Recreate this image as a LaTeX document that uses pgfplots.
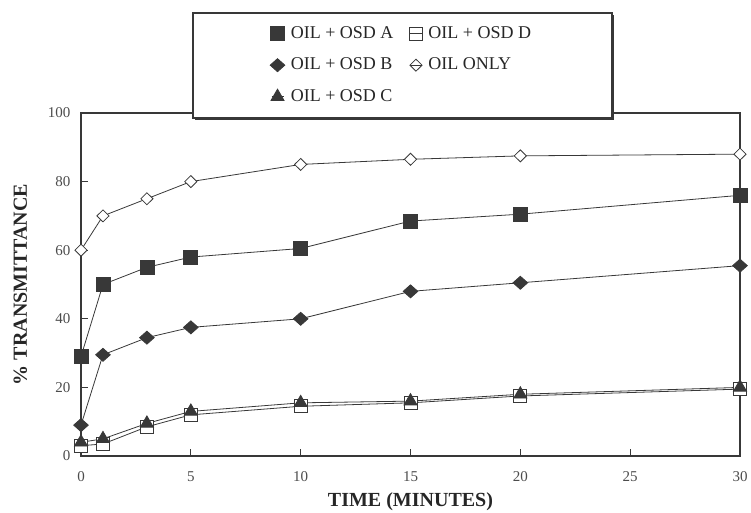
\documentclass[border=0pt]{standalone}
\usepackage{pgfplots}
\pgfplotsset{compat=1.18}
\usepackage{fontspec}
\setmainfont{Liberation Serif}
\definecolor{ink}{gray}{0.22}
\begin{document}
\begin{tikzpicture}
\path[use as bounding box] (-81pt,-57pt) rectangle (670pt,456pt);
\begin{axis}[
  at={(0pt,0pt)}, anchor=south west,
  scale only axis, width=659pt, height=343pt,
  xmin=0, xmax=30, ymin=0, ymax=100,
  xtick={0,5,...,30}, ytick={0,20,...,100},
  tick align=inside, xtick pos=bottom, ytick pos=left,
  major tick length=7pt,
  axis line style={line width=1.8pt, draw=ink},
  every tick/.style={line width=0.9pt, draw=ink},
  ticklabel style={font=\fontsize{15}{15}\selectfont, text=black!70},
  xticklabel style={yshift=-12pt},
  yticklabel style={xshift=-7pt},
  /pgf/number format/assume math mode=true,
  xlabel={TIME (MINUTES)}, ylabel={\% TRANSMITTANCE},
  label style={font=\fontsize{20}{20}\selectfont\bfseries, text=black!85},
  xlabel style={at={(axis description cs:0.5,-0.134)}, anchor=center},
  ylabel style={at={(axis description cs:-0.092,0.5)}, anchor=center},
  legend columns=2,
  legend cell align=left,
  legend style={at={(axis description cs:0.2868,1.2595)}, anchor=north west,
    draw=none, fill=none, inner sep=0pt, row sep=12.5pt,
    font=\fontsize{18}{18}\selectfont, text=black!85,
    nodes={inner sep=2pt, text height=12pt, text depth=3pt},
    /tikz/every odd column/.append style={column sep=4pt},
    /tikz/every even column/.append style={column sep=14pt}},
  legend image code/.code={\draw[#1] plot coordinates {(0pt,0pt)}; \draw[#1, mark=none] (-6pt,0pt)--(6pt,0pt);},
]
% OIL + OSD A
\addplot[color=ink, line width=0.8pt, mark=square*, mark size=7pt, mark options={fill=ink, solid}]
  coordinates {(0,29) (1,50) (3,55) (5,58) (10,60.5) (15,68.5) (20,70.5) (30,76)};
\addlegendentry{OIL + OSD A}
% OIL + OSD D
\addplot[color=ink, line width=0.8pt, mark=square*, mark size=6.5pt, mark options={fill=white, draw=ink, solid}]
  coordinates {(0,3) (1,3.5) (3,8.5) (5,12) (10,14.5) (15,15.5) (20,17.5) (30,19.5)};
\addlegendentry{OIL + OSD D}
% OIL + OSD B
\addplot[color=ink, line width=0.8pt, mark=diamond*, mark size=6.5pt, mark options={fill=ink, solid, xscale=1.5}]
  coordinates {(0,9) (1,29.5) (3,34.5) (5,37.5) (10,40) (15,48) (20,50.5) (30,55.5)};
\addlegendentry{OIL + OSD B}
% OIL ONLY
\addplot[color=ink, line width=0.8pt, mark=diamond*, mark size=6pt, mark options={fill=white, draw=ink, solid, xscale=1.35}]
  coordinates {(0,60) (1,70) (3,75) (5,80) (10,85) (15,86.5) (20,87.5) (30,88)};
\addlegendentry{OIL ONLY}
% OIL + OSD C
\addplot[color=ink, line width=0.8pt, mark=triangle*, mark size=7.5pt, mark options={fill=ink, solid}]
  coordinates {(0,4) (1,5) (3,9.5) (5,13) (10,15.5) (15,16) (20,18) (30,20)};
\addlegendentry{OIL + OSD C}
\end{axis}
\fill[white] (113pt,339.5pt) rectangle (530pt,348pt);
\draw[line width=1.3pt, ink] (112pt,338pt) rectangle (531pt,443pt);
\draw[line width=1.2pt, ink] (114pt,336.5pt) -- (532.5pt,336.5pt) -- (532.5pt,441pt);
\end{tikzpicture}
\end{document}
